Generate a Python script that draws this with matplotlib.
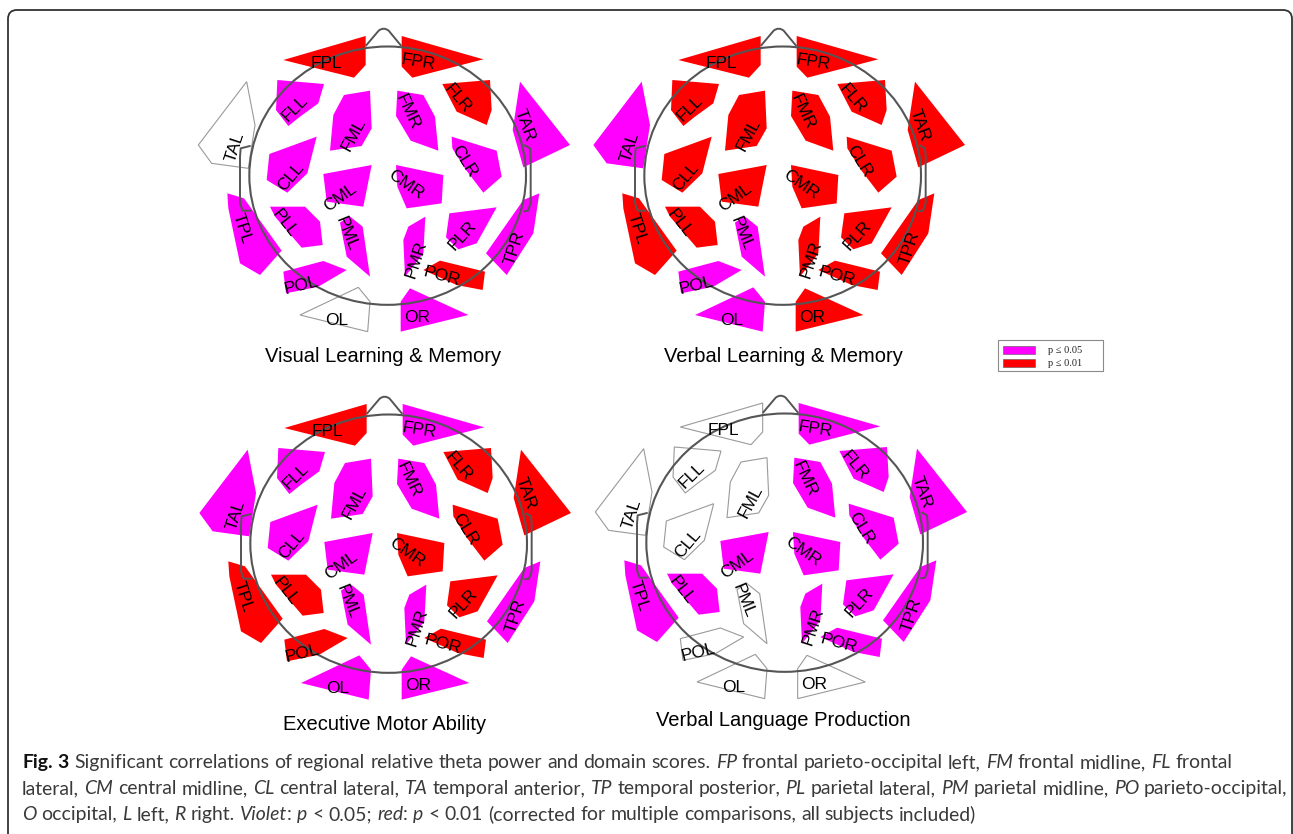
import matplotlib
matplotlib.use("Agg")
import matplotlib.pyplot as plt
from matplotlib.patches import Polygon, Ellipse, FancyBboxPatch, Rectangle
from matplotlib.path import Path
from matplotlib.patches import PathPatch

# ---------------------------------------------------------------- data
regions = ["FPL", "FPR", "FLL", "FML", "FMR", "FLR", "TAL", "TAR",
           "CLL", "CML", "CMR", "CLR", "TPL", "PLL", "PML", "PMR",
           "PLR", "TPR", "POL", "POR", "OL", "OR"]

panel_titles = ["Visual Learning & Memory", "Verbal Learning & Memory",
                "Executive Motor Ability", "Verbal Language Production"]

# significance level per region: 0 = n.s., 1 = p <= 0.05, 2 = p <= 0.01
visual_memory = [2, 2, 1, 1, 1, 2, 0, 1, 1, 1, 1, 1, 1, 1, 1, 1, 1, 1, 1, 2, 0, 1]
verbal_memory = [2, 2, 2, 2, 2, 2, 1, 2, 2, 2, 2, 2, 2, 2, 1, 2, 2, 2, 1, 2, 1, 2]
executive_motor = [2, 1, 1, 1, 1, 2, 1, 2, 1, 1, 2, 2, 2, 2, 1, 1, 2, 1, 2, 2, 1, 1]
verbal_language = [0, 1, 0, 0, 1, 1, 0, 1, 0, 1, 1, 1, 1, 1, 0, 1, 1, 1, 0, 1, 0, 0]
panel_levels = [visual_memory, verbal_memory, executive_motor, verbal_language]

legend_labels = ["p \u2264 0.05", "p \u2264 0.01"]

# ---------------------------------------------------------------- layout
W, H = 1293, 834
level_colors = {1: "#ff00ff", 2: "#ff0000"}

# region outlines on a 3x head grid
shapes = {
    "FPL": [(280, 180), (527, 108), (527, 195), (492, 233)],
    "FPR": [(635, 108), (880, 178), (667, 233), (635, 200)],
    "FLL": [(262, 240), (402, 252), (385, 310), (330, 350), (295, 378), (258, 330)],
    "FML": [(462, 285), (540, 272), (545, 385), (515, 438), (420, 452), (430, 345)],
    "FMR": [(622, 272), (700, 285), (735, 350), (745, 452), (662, 422), (618, 348)],
    "FLR": [(757, 252), (900, 240), (905, 330), (890, 375), (800, 335)],
    "TAL": [(170, 245), (195, 375), (175, 505), (65, 490), (25, 435)],
    "TAR": [(990, 245), (1140, 435), (1000, 502), (968, 390)],
    "CLL": [(238, 462), (380, 410), (352, 520), (292, 578), (230, 540)],
    "CML": [(400, 522), (545, 495), (520, 620), (410, 605)],
    "CMR": [(618, 495), (760, 525), (755, 610), (650, 625), (622, 560)],
    "CLR": [(785, 410), (920, 452), (935, 530), (880, 578), (828, 510), (787, 445)],
    "TPL": [(112, 580), (162, 595), (275, 752), (210, 825), (150, 790), (115, 625)],
    "PLL": [(240, 620), (345, 620), (390, 665), (398, 735), (335, 743), (255, 650)],
    "PML": [(478, 648), (518, 680), (540, 830), (470, 770), (450, 668)],
    "PMR": [(655, 680), (706, 650), (700, 760), (645, 830), (640, 720)],
    "PLR": [(778, 640), (920, 622), (860, 730), (805, 748), (768, 712)],
    "TPR": [(1000, 600), (1048, 580), (1030, 700), (950, 825), (888, 760)],
    "POL": [(280, 815), (400, 783), (470, 810), (385, 860), (288, 880)],
    "POR": [(700, 810), (750, 782), (885, 815), (878, 870), (800, 855)],
    "OL": [(330, 945), (505, 862), (540, 905), (533, 995)],
    "OR": [(660, 865), (835, 945), (632, 995), (632, 905)],
}

# label anchor (3x grid) and rotation in degrees
label_spec = {
    "FPL": (410, 190, 0), "FPR": (685, 188, -9), "FLL": (315, 325, 45),
    "FML": (490, 405, 62), "FMR": (652, 335, -65), "FLR": (803, 295, -50),
    "TAL": (135, 440, 72), "TAR": (1005, 375, -70), "CLL": (302, 530, 50),
    "CML": (450, 592, 36), "CMR": (648, 555, -35), "CLR": (822, 485, -58),
    "TPL": (155, 685, -72), "PLL": (285, 670, -52), "PML": (468, 700, -68),
    "PMR": (678, 778, 72), "PLR": (818, 705, 48), "TPR": (975, 745, 72),
    "POL": (333, 855, 14), "POR": (755, 830, -15), "OL": (440, 962, 0),
    "OR": (680, 952, 0),
}

head_origins = [(190, 0), (585, 0), (191, 368), (587, 367)]
title_pos = [(383, 356), (783, 356), (385, 724), (783, 720)]

fig = plt.figure(figsize=(W / 100, H / 100), dpi=100)
ax = fig.add_axes([0, 0, 1, 1])
ax.set_xlim(0, W)
ax.set_ylim(H, 0)
ax.axis("off")


def to_px(pt, origin):
    return (origin[0] + pt[0] / 3.0, origin[1] + pt[1] / 3.0)


def draw_head(origin, levels):
    for name, lvl in zip(regions, levels):
        pts = [to_px(p, origin) for p in shapes[name]]
        if lvl == 0:
            poly = Polygon(pts, closed=True, facecolor="white",
                           edgecolor="#9a9a9a", lw=0.8, zorder=2)
        else:
            poly = Polygon(pts, closed=True, facecolor=level_colors[lvl],
                           edgecolor="none", zorder=2)
        ax.add_patch(poly)

    # scalp outline
    c = to_px((593, 527), origin)
    ax.add_patch(Ellipse(c, 830 / 3, 775 / 3, fill=False, ec="#555555",
                         lw=1.5, zorder=3))
    # nose
    nose = [to_px(p, origin) for p in
            [(527, 138), (566, 92), (581, 86), (596, 92), (634, 138)]]
    codes = [Path.MOVETO, Path.LINETO, Path.CURVE3, Path.CURVE3, Path.LINETO]
    nose_path = Path([nose[0], nose[1], (nose[2][0], nose[2][1] - 2), nose[3], nose[4]], codes)
    ax.add_patch(PathPatch(nose_path, fill=False, ec="#555555", lw=1.4, zorder=3))
    # ears
    for ear in ([(180, 438), (152, 445), (150, 470), (150, 610), (158, 632), (182, 632)],
                [(1004, 436), (1020, 445), (1022, 470), (1022, 610), (1014, 632), (1002, 634)]):
        pts = [to_px(p, origin) for p in ear]
        xs, ys = zip(*pts)
        ax.plot(xs, ys, color="#555555", lw=1.4, zorder=3,
                solid_joinstyle="round", solid_capstyle="round")

    for name in regions:
        lx, ly, rot = label_spec[name]
        px, py = to_px((lx, ly), origin)
        ax.text(px, py, name, fontsize=12.5, family="Liberation Sans",
                rotation=rot, ha="center", va="center", color="black",
                rotation_mode="anchor", zorder=4)


for origin, levels, title, tpos in zip(head_origins, panel_levels,
                                       panel_titles, title_pos):
    draw_head(origin, levels)
    ax.text(tpos[0], tpos[1], title, fontsize=14.5, family="Liberation Sans",
            ha="center", va="center", color="black", zorder=4)

# legend
ax.add_patch(Rectangle((998, 340), 105, 31, fill=False, ec="#8a8a8a", lw=0.8))
for i, (lab, lvl) in enumerate(zip(legend_labels, [1, 2])):
    y0 = 346 + i * 13
    ax.add_patch(Rectangle((1003, y0), 32, 8, facecolor=level_colors[lvl],
                           edgecolor="#555555", lw=0.4))
    ax.text(1048, y0 + 4, lab, fontsize=7.5, family="Liberation Serif",
            ha="left", va="center", color="#222222")

# outer frame
ax.add_patch(FancyBboxPatch((8, 10), 1284, 840,
                            boxstyle="round,pad=0,rounding_size=9",
                            fill=False, ec="#333333", lw=1.3, clip_on=True))

# caption
cap_font = "Lato"
cap_color = "#3a3a3a"
caption_lines = [
    [("Fig. 3", "b"), (" Significant correlations of regional relative theta power and domain scores. ", "n"),
     ("FP", "i"), (" frontal parieto-occipital left, ", "n"), ("FM", "i"),
     (" frontal midline, ", "n"), ("FL", "i"), (" frontal", "n")],
    [("lateral, ", "n"), ("CM", "i"), (" central midline, ", "n"), ("CL", "i"),
     (" central lateral, ", "n"), ("TA", "i"), (" temporal anterior, ", "n"),
     ("TP", "i"), (" temporal posterior, ", "n"), ("PL", "i"),
     (" parietal lateral, ", "n"), ("PM", "i"), (" parietal midline, ", "n"),
     ("PO", "i"), (" parieto-occipital,", "n")],
    [("O", "i"), (" occipital, ", "n"), ("L", "i"), (" left, ", "n"), ("R", "i"),
     (" right. ", "n"), ("Violet", "i"), (": ", "n"), ("p", "i"), (" < 0.05; ", "n"),
     ("red", "i"), (": ", "n"), ("p", "i"),
     (" < 0.01 (corrected for multiple comparisons, all subjects included)", "n")],
]
caption_left = 22
caption_right = [1262, 1283]
caption_baseline = [768, 794, 820]
renderer = fig.canvas.get_renderer()


def run_kwargs(style, size):
    kw = dict(fontsize=size, family=cap_font, color=cap_color)
    if style == "b":
        kw.update(fontweight="bold", color="#111111")
    elif style == "i":
        kw.update(fontstyle="italic")
    return kw


def text_width(s, kw):
    t = ax.text(0, 0, s, **kw)
    w = t.get_window_extent(renderer).width
    t.remove()
    return w


def split_words(runs):
    """Break runs into words; a word may combine pieces of several styles."""
    tokens = []
    current = []
    for s, st in runs:
        parts = s.split(" ")
        for k, part in enumerate(parts):
            if k > 0:
                if current:
                    tokens.append(current)
                current = []
            if part:
                current.append((part, st))
    if current:
        tokens.append(current)
    return tokens


def measure(runs, size):
    sp = text_width("x x", run_kwargs("n", size)) - text_width("xx", run_kwargs("n", size))
    tokens = split_words(runs)
    widths = [[text_width(p, run_kwargs(st, size)) for p, st in tok] for tok in tokens]
    total = sum(sum(w) for w in widths) + sp * (len(tokens) - 1)
    return tokens, widths, sp, total


# font size chosen so the two full-width lines fit inside the frame
base = 12.0
ratios = []
for runs, right in zip(caption_lines[:2], caption_right):
    _, _, _, nat = measure(runs, base)
    ratios.append((right - caption_left) / nat)
cap_size = base * min(ratios)

for runs, yb in zip(caption_lines, caption_baseline):
    tokens, widths, sp, _ = measure(runs, cap_size)
    x = caption_left
    for tok, ws in zip(tokens, widths):
        for (p, st), w in zip(tok, ws):
            ax.text(x, yb, p, va="baseline", ha="left", **run_kwargs(st, cap_size))
            x += w
        x += sp

fig.savefig("out.png", dpi=100)
